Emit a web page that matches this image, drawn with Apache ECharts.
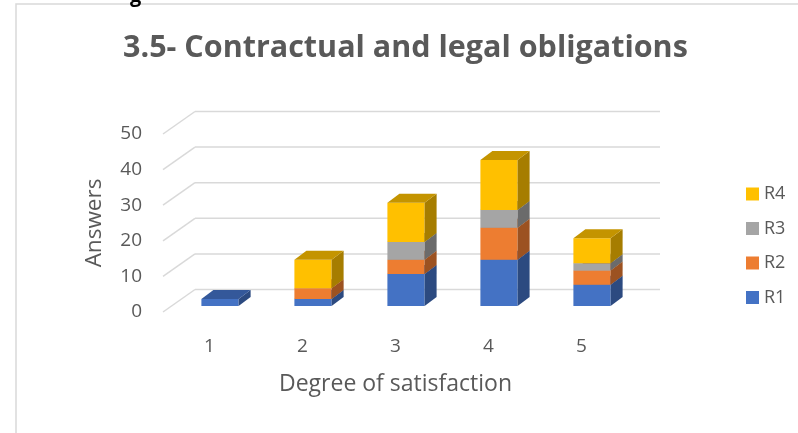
<!DOCTYPE html>
<html>
<head>
<meta charset="utf-8">
<script src="https://cdn.jsdelivr.net/npm/echarts@6/dist/echarts.min.js"></script>
<style>
  html, body { margin: 0; padding: 0; background: #fff; }
  #chart { width: 798px; height: 433px; }
</style>
</head>
<body>
<div id="chart"></div>
<script>
// 数据
var categories = ['1', '2', '3', '4', '5']
var seriesNames = ['R1', 'R2', 'R3', 'R4']
var r1 = [2, 2, 9, 13, 6]
var r2 = [0, 3, 4, 9, 4]
var r3 = [0, 0, 5, 5, 2]
var r4 = [0, 8, 11, 14, 7]
var yTicks = [0, 10, 20, 30, 40, 50]

var values = [r1, r2, r3, r4]
var colors = ['#4472C4', '#ED7D31', '#A5A5A5', '#FFC000']
var topColors = ['#34589A', '#B86127', '#808080', '#C49400']
var sideColors = ['#2C4A80', '#9C5221', '#6B6B6B', '#A67D00']
var textColor = '#595959'

// 3D offsets (oblique)
var WALL = [32, -22.5]
var BAR_FRONT = [10.5, -6]
var BAR_DEPTH = [12, -9]

var chart = echarts.init(document.getElementById('chart'))

// stacked bases
var bases = categories.map(function () { return 0 })
var barSeries = values.map(function (vals, s) {
  var data = vals.map(function (v, i) {
    var b = bases[i]
    bases[i] += v
    return [i, b, b + v]
  })
  return {
    name: seriesNames[s],
    type: 'custom',
    z: 3,
    itemStyle: { color: colors[s] },
    encode: { x: 0, y: [1, 2] },
    silent: true,
    renderItem: function (params, api) {
      var ci = api.value(0)
      var b = api.value(1)
      var t = api.value(2)
      if (t <= b) return null
      var p0 = api.coord([ci, b])
      var p1 = api.coord([ci, t])
      var bw = api.size([1, 0])[0] * 0.4
      var fx = p0[0] - bw / 2 + BAR_FRONT[0]
      var yb = p0[1] + BAR_FRONT[1]
      var yt = p1[1] + BAR_FRONT[1]
      var dx = BAR_DEPTH[0]
      var dy = BAR_DEPTH[1]
      return {
        type: 'group',
        children: [
          {
            type: 'rect',
            shape: { x: fx, y: yt, width: bw, height: yb - yt },
            style: { fill: colors[s] }
          },
          {
            type: 'polygon',
            shape: { points: [[fx + bw, yt], [fx + bw + dx, yt + dy], [fx + bw + dx, yb + dy], [fx + bw, yb]] },
            style: { fill: sideColors[s] }
          },
          {
            type: 'polygon',
            shape: { points: [[fx, yt], [fx + dx, yt + dy], [fx + bw + dx, yt + dy], [fx + bw, yt]] },
            style: { fill: topColors[s] }
          }
        ]
      }
    },
    data: data
  }
})

// back wall + side wall gridlines
var wallSeries = {
  type: 'custom',
  z: 1,
  silent: true,
  encode: { x: 0, y: 1 },
  renderItem: function (params, api) {
    var cs = params.coordSys
    var y = api.coord([0, api.value(1)])[1]
    var x0 = cs.x
    var x1 = cs.x + cs.width
    var st = { stroke: '#D9D9D9', lineWidth: 1.5 }
    return {
      type: 'group',
      children: [
        { type: 'line', shape: { x1: x0, y1: y, x2: x0 + WALL[0], y2: y + WALL[1] }, style: st },
        { type: 'line', shape: { x1: x0 + WALL[0], y1: y + WALL[1], x2: x1 + WALL[0], y2: y + WALL[1] }, style: st }
      ]
    }
  },
  data: yTicks.map(function (v) { return [0, v] })
}

var option = {
  animation: false,
  backgroundColor: '#fff',
  textStyle: { fontFamily: 'Open Sans' },
  title: {
    text: '3.5- Contractual and legal obligations',
    left: 123,
    top: 33,
    padding: 0,
    textStyle: { fontFamily: 'Open Sans', fontWeight: 'bold', fontSize: 30.5, color: textColor }
  },
  graphic: [
    {
      type: 'rect',
      shape: { x: 16, y: 4, width: 800, height: 440 },
      style: { fill: 'none', stroke: '#D9D9D9', lineWidth: 1.5 },
      z: 0
    },
    {
      type: 'text',
      left: 130,
      top: -14,
      style: { text: 'g', fontFamily: 'Open Sans', fontWeight: 'bold', fontSize: 20, fill: '#000' }
    }
  ],
  legend: {
    orient: 'vertical',
    left: 741,
    top: 180,
    padding: 5,
    data: ['R4', 'R3', 'R2', 'R1'],
    icon: 'rect',
    itemWidth: 13,
    itemHeight: 13,
    itemGap: 16.5,
    textStyle: { color: textColor, fontSize: 18, lineHeight: 18, fontFamily: 'Open Sans' }
  },
  grid: { left: 163, right: 170, top: 134, bottom: 121 },
  xAxis: {
    type: 'category',
    data: categories,
    name: 'Degree of satisfaction',
    nameLocation: 'middle',
    nameGap: 61,
    nameTextStyle: { color: textColor, fontSize: 23 },
    axisLine: { show: false },
    axisTick: { show: false },
    axisLabel: { color: textColor, fontSize: 19, margin: 25 }
  },
  yAxis: {
    type: 'value',
    min: 0,
    max: 50,
    interval: 10,
    name: 'Answers',
    nameLocation: 'middle',
    nameGap: 56.5,
    nameTextStyle: { color: textColor, fontSize: 22.5 },
    axisLine: { show: false },
    axisTick: { show: false },
    splitLine: { show: false },
    axisLabel: { color: textColor, fontSize: 19, margin: 21, padding: [7, 0, 0, 0] }
  },
  series: [wallSeries].concat(barSeries)
}

chart.setOption(option)
</script>
</body>
</html>
